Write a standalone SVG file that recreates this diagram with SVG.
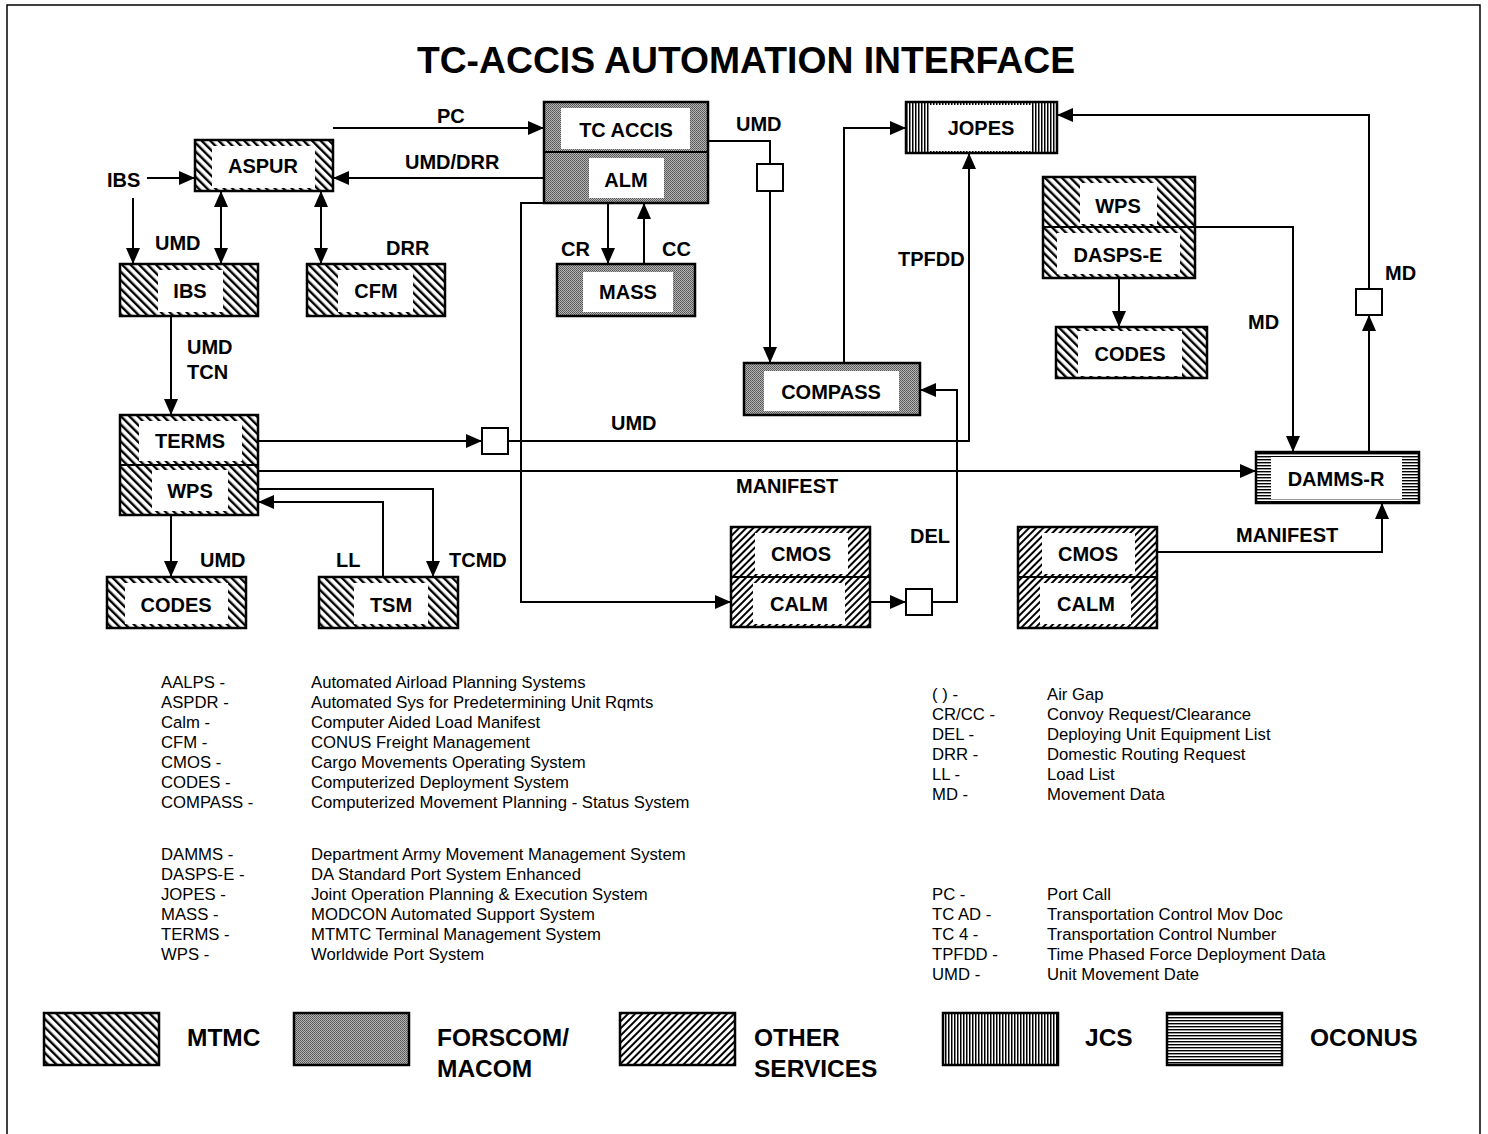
<svg xmlns="http://www.w3.org/2000/svg" width="1488" height="1134" viewBox="0 0 1488 1134">
<style>
.t{font-family:"Liberation Sans",Arial,sans-serif;font-weight:bold;font-size:20px;fill:#000}
.n{font-family:"Liberation Sans",Arial,sans-serif;font-weight:bold;font-size:20px;fill:#000;text-anchor:middle}
.lg{font-family:"Liberation Sans",Arial,sans-serif;font-weight:bold;font-size:24.5px;fill:#000}
.d{font-family:"Liberation Sans",Arial,sans-serif;font-size:16.7px;fill:#000}
.box{stroke:#000;stroke-width:2.5}
.in{fill:#fff}
.c{fill:none;stroke:#000;stroke-width:2}
.sq{fill:#fff;stroke:#000;stroke-width:2}
.mt{fill:url(#mtmc)}
.fo{fill:url(#forscom)}
.ot{fill:url(#other)}
.jc{fill:url(#jcs)}
.oc{fill:url(#oconus)}
</style>
<defs>
<pattern id="mtmc" patternUnits="userSpaceOnUse" width="6" height="6" patternTransform="rotate(-45)">
<rect width="6" height="6" fill="#fff"/><rect width="2.4" height="6" fill="#000"/>
</pattern>
<pattern id="other" patternUnits="userSpaceOnUse" width="5" height="5" patternTransform="rotate(45)">
<rect width="5" height="5" fill="#fff"/><rect width="2" height="5" fill="#000"/>
</pattern>
<pattern id="jcs" patternUnits="userSpaceOnUse" width="3" height="3">
<rect width="3" height="3" fill="#fff"/><rect width="1.5" height="3" fill="#000"/>
</pattern>
<pattern id="oconus" patternUnits="userSpaceOnUse" width="3" height="3">
<rect width="3" height="3" fill="#fff"/><rect width="3" height="1.4" fill="#000"/>
</pattern>
<pattern id="forscom" patternUnits="userSpaceOnUse" width="2" height="2">
<rect width="2" height="2" fill="#b4b4b4"/><rect width="1" height="1" fill="#555"/><rect x="1" y="1" width="1" height="1" fill="#666"/>
</pattern>
<marker id="ah" markerUnits="userSpaceOnUse" markerWidth="16" markerHeight="14" refX="16" refY="7" orient="auto-start-reverse">
<path d="M0,0 L16,7 L0,14 z" fill="#000"/>
</marker>
</defs>

<rect width="1488" height="1134" fill="#fff"/>
<path d="M7,1134 V5 H1480 V1134" fill="none" stroke="#000" stroke-width="1.5"/>
<text x="746" y="73" font-family="'Liberation Sans',Arial,sans-serif" font-weight="bold" font-size="37.3" text-anchor="middle">TC-ACCIS AUTOMATION INTERFACE</text>

<g id="connectors">
<path class="c" d="M333,128 H544" marker-end="url(#ah)"/>
<path class="c" d="M547,178 H333" marker-end="url(#ah)"/>
<path class="c" d="M147,178 H195" marker-end="url(#ah)"/>
<path class="c" d="M133,198 V264" marker-end="url(#ah)"/>
<path class="c" d="M221,191 V264" marker-start="url(#ah)" marker-end="url(#ah)"/>
<path class="c" d="M321,191 V264" marker-start="url(#ah)" marker-end="url(#ah)"/>
<path class="c" d="M171,316 V415" marker-end="url(#ah)"/>
<path class="c" d="M258,441 H482" marker-end="url(#ah)"/>
<path class="c" d="M508,441 H969 V153" marker-end="url(#ah)"/>
<path class="c" d="M258,471 H1256" marker-end="url(#ah)"/>
<path class="c" d="M258,489 H433 V577" marker-end="url(#ah)"/>
<path class="c" d="M383,577 V502 H258" marker-end="url(#ah)"/>
<path class="c" d="M171,515 V577" marker-end="url(#ah)"/>
<path class="c" d="M708,141 H770 V164"/>
<path class="c" d="M770,191 V363" marker-end="url(#ah)"/>
<path class="c" d="M844,363 V128 H906" marker-end="url(#ah)"/>
<path class="c" d="M608,203 V264" marker-end="url(#ah)"/>
<path class="c" d="M644,264 V203" marker-end="url(#ah)"/>
<path class="c" d="M546,203 H521 V602 H731" marker-end="url(#ah)"/>
<path class="c" d="M870,602 H906" marker-end="url(#ah)"/>
<path class="c" d="M932,602 H957 V390 H920" marker-end="url(#ah)"/>
<path class="c" d="M1369,452 V315" marker-end="url(#ah)"/>
<path class="c" d="M1369,289 V115 H1057" marker-end="url(#ah)"/>
<path class="c" d="M1195,227 H1293 V452" marker-end="url(#ah)"/>
<path class="c" d="M1119,278 V327" marker-end="url(#ah)"/>
<path class="c" d="M1157,552 H1382 V503" marker-end="url(#ah)"/>
<rect class="sq" x="482" y="428" width="26" height="26"/>
<rect class="sq" x="757" y="164" width="26" height="27"/>
<rect class="sq" x="906" y="589" width="26" height="26"/>
<rect class="sq" x="1356" y="289" width="26" height="26"/>
</g>

<g id="labels">
<text class="t" x="437" y="123">PC</text>
<text class="t" x="405" y="169">UMD/DRR</text>
<text class="t" x="107" y="187">IBS</text>
<text class="t" x="155" y="250">UMD</text>
<text class="t" x="386" y="255">DRR</text>
<text class="t" x="736" y="131">UMD</text>
<text class="t" x="561" y="256">CR</text>
<text class="t" x="662" y="256">CC</text>
<text class="t" x="898" y="266">TPFDD</text>
<text class="t" x="187" y="354">UMD</text>
<text class="t" x="187" y="379">TCN</text>
<text class="t" x="611" y="430">UMD</text>
<text class="t" x="736" y="493">MANIFEST</text>
<text class="t" x="200" y="567">UMD</text>
<text class="t" x="336" y="567">LL</text>
<text class="t" x="449" y="567">TCMD</text>
<text class="t" x="910" y="543">DEL</text>
<text class="t" x="1385" y="280">MD</text>
<text class="t" x="1248" y="329">MD</text>
<text class="t" x="1236" y="542">MANIFEST</text>
</g>

<g id="aspur"><rect class="box mt" x="195" y="140" width="138" height="51"/><rect class="in" x="212" y="146" width="103" height="42"/><text class="n" x="263" y="173">ASPUR</text></g>
<g id="ibs"><rect class="box mt" x="120" y="264" width="138" height="52"/><rect class="in" x="158" y="270" width="65" height="42"/><text class="n" x="190" y="298">IBS</text></g>
<g id="cfm"><rect class="box mt" x="307" y="264" width="138" height="52"/><rect class="in" x="338" y="270" width="75" height="42"/><text class="n" x="376" y="298">CFM</text></g>
<g id="tcaccis-alm"><rect class="box fo" x="544" y="102" width="164" height="101"/><line x1="544" y1="152" x2="708" y2="152" stroke="#000" stroke-width="2"/><rect class="in" x="561" y="108" width="129" height="41"/><rect class="in" x="589" y="158" width="75" height="40"/><text class="n" x="626" y="137">TC ACCIS</text><text class="n" x="626" y="187">ALM</text></g>
<g id="mass"><rect class="box fo" x="557" y="264" width="138" height="52"/><rect class="in" x="583" y="272" width="90" height="40"/><text class="n" x="628" y="299">MASS</text></g>
<g id="jopes"><rect class="box jc" x="906" y="102" width="151" height="51"/><rect class="in" x="930" y="105" width="102" height="46"/><text class="n" x="981" y="135">JOPES</text></g>
<g id="wps-daspse"><rect class="box mt" x="1043" y="177" width="152" height="101"/><line x1="1043" y1="227" x2="1195" y2="227" stroke="#000" stroke-width="2"/><rect class="in" x="1080" y="183" width="77" height="41"/><rect class="in" x="1057" y="233" width="123" height="41"/><text class="n" x="1118" y="213">WPS</text><text class="n" x="1118" y="262">DASPS-E</text></g>
<g id="codes-right"><rect class="box mt" x="1056" y="327" width="151" height="51"/><rect class="in" x="1078" y="331" width="104" height="45"/><text class="n" x="1130" y="361">CODES</text></g>
<g id="compass"><rect class="box fo" x="744" y="363" width="176" height="52"/><rect class="in" x="764" y="371" width="135" height="40"/><text class="n" x="831" y="399">COMPASS</text></g>
<g id="damms-r"><rect class="box oc" x="1256" y="452" width="163" height="51"/><rect class="in" x="1271" y="457" width="131" height="42"/><text class="n" x="1336" y="486">DAMMS-R</text></g>
<g id="terms-wps"><rect class="box mt" x="120" y="415" width="138" height="100"/><line x1="120" y1="465" x2="258" y2="465" stroke="#000" stroke-width="2"/><rect class="in" x="139" y="421" width="103" height="40"/><rect class="in" x="152" y="470" width="76" height="41"/><text class="n" x="190" y="448">TERMS</text><text class="n" x="190" y="498">WPS</text></g>
<g id="codes-left"><rect class="box mt" x="107" y="577" width="139" height="51"/><rect class="in" x="125" y="583" width="103" height="41"/><text class="n" x="176" y="612">CODES</text></g>
<g id="tsm"><rect class="box mt" x="319" y="577" width="139" height="51"/><rect class="in" x="354" y="583" width="74" height="41"/><text class="n" x="391" y="612">TSM</text></g>
<g id="cmos-calm-center"><rect class="box ot" x="731" y="527" width="139" height="100"/><line x1="731" y1="577" x2="870" y2="577" stroke="#000" stroke-width="2"/><rect class="in" x="755" y="533" width="93" height="41"/><rect class="in" x="753" y="583" width="92" height="41"/><text class="n" x="801" y="561">CMOS</text><text class="n" x="799" y="611">CALM</text></g>
<g id="cmos-calm-right"><rect class="box ot" x="1018" y="527" width="139" height="101"/><line x1="1018" y1="577" x2="1157" y2="577" stroke="#000" stroke-width="2"/><rect class="in" x="1042" y="533" width="93" height="41"/><rect class="in" x="1040" y="583" width="91" height="41"/><text class="n" x="1088" y="561">CMOS</text><text class="n" x="1086" y="611">CALM</text></g>

<g id="glossary">
<text class="d" x="161" y="688">AALPS -</text><text class="d" x="311" y="688">Automated Airload Planning Systems</text>
<text class="d" x="161" y="708">ASPDR -</text><text class="d" x="311" y="708">Automated Sys for Predetermining Unit Rqmts</text>
<text class="d" x="161" y="728">Calm -</text><text class="d" x="311" y="728">Computer Aided Load Manifest</text>
<text class="d" x="161" y="748">CFM -</text><text class="d" x="311" y="748">CONUS Freight Management</text>
<text class="d" x="161" y="768">CMOS -</text><text class="d" x="311" y="768">Cargo Movements Operating System</text>
<text class="d" x="161" y="788">CODES -</text><text class="d" x="311" y="788">Computerized Deployment System</text>
<text class="d" x="161" y="808">COMPASS -</text><text class="d" x="311" y="808">Computerized Movement Planning - Status System</text>
<text class="d" x="161" y="860">DAMMS -</text><text class="d" x="311" y="860">Department Army Movement Management System</text>
<text class="d" x="161" y="880">DASPS-E -</text><text class="d" x="311" y="880">DA Standard Port System Enhanced</text>
<text class="d" x="161" y="900">JOPES -</text><text class="d" x="311" y="900">Joint Operation Planning &amp; Execution System</text>
<text class="d" x="161" y="920">MASS -</text><text class="d" x="311" y="920">MODCON Automated Support System</text>
<text class="d" x="161" y="940">TERMS -</text><text class="d" x="311" y="940">MTMTC Terminal Management System</text>
<text class="d" x="161" y="960">WPS -</text><text class="d" x="311" y="960">Worldwide Port System</text>
<text class="d" x="932" y="700">( ) -</text><text class="d" x="1047" y="700">Air Gap</text>
<text class="d" x="932" y="720">CR/CC -</text><text class="d" x="1047" y="720">Convoy Request/Clearance</text>
<text class="d" x="932" y="740">DEL -</text><text class="d" x="1047" y="740">Deploying Unit Equipment List</text>
<text class="d" x="932" y="760">DRR -</text><text class="d" x="1047" y="760">Domestic Routing Request</text>
<text class="d" x="932" y="780">LL -</text><text class="d" x="1047" y="780">Load List</text>
<text class="d" x="932" y="800">MD -</text><text class="d" x="1047" y="800">Movement Data</text>
<text class="d" x="932" y="900">PC -</text><text class="d" x="1047" y="900">Port Call</text>
<text class="d" x="932" y="920">TC AD -</text><text class="d" x="1047" y="920">Transportation Control Mov Doc</text>
<text class="d" x="932" y="940">TC 4 -</text><text class="d" x="1047" y="940">Transportation Control Number</text>
<text class="d" x="932" y="960">TPFDD -</text><text class="d" x="1047" y="960">Time Phased Force Deployment Data</text>
<text class="d" x="932" y="980">UMD -</text><text class="d" x="1047" y="980">Unit Movement Date</text>
</g>

<g id="legend">
<rect class="box mt" x="44" y="1013" width="115" height="52"/><text class="lg" x="187" y="1046">MTMC</text>
<rect class="box fo" x="294" y="1013" width="115" height="52"/><text class="lg" x="437" y="1046">FORSCOM/</text><text class="lg" x="437" y="1077">MACOM</text>
<rect class="box ot" x="620" y="1013" width="115" height="52"/><text class="lg" x="754" y="1046">OTHER</text><text class="lg" x="754" y="1077">SERVICES</text>
<rect class="box jc" x="943" y="1013" width="115" height="52"/><text class="lg" x="1085" y="1046">JCS</text>
<rect class="box oc" x="1167" y="1013" width="115" height="52"/><text class="lg" x="1310" y="1046">OCONUS</text>
</g>
</svg>
